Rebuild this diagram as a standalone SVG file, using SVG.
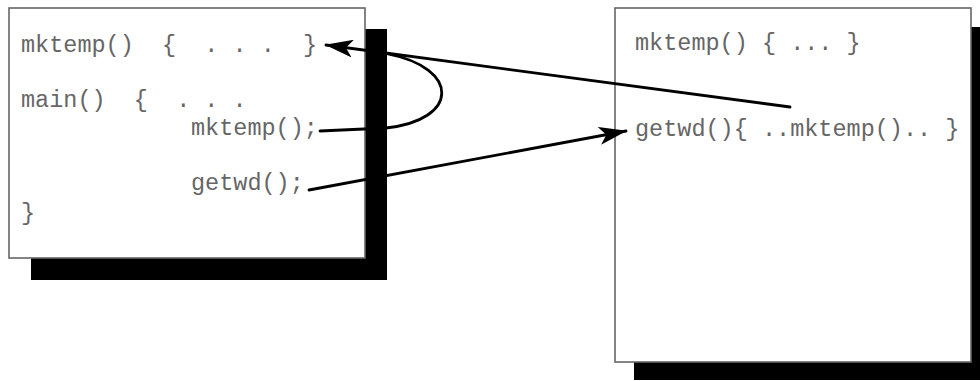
<svg xmlns="http://www.w3.org/2000/svg" width="980" height="381" viewBox="0 0 980 381">
<style>
.shadow{fill:#000}
.box{fill:#fff;stroke:#666;stroke-width:1.6}
.code{font-family:"Liberation Mono","Courier New",monospace;font-size:23.5px;fill:#666;white-space:pre}
.conn{fill:none;stroke:#000;stroke-width:2.8;stroke-linecap:round}
</style>
<defs>
<marker id="ah" viewBox="0 0 28 18" refX="27" refY="9" markerWidth="28" markerHeight="18" markerUnits="userSpaceOnUse" orient="auto">
<path d="M28,9 L0,0 L7,9 L0,18 Z" fill="#000"/>
</marker>
</defs>
<g id="caller">
<rect class="shadow" x="31" y="29" width="356" height="251"/>
<rect class="box" x="9" y="8" width="356" height="250"/>
<text class="code" x="21" y="52" xml:space="preserve">mktemp()  {  . . .  }</text>
<text class="code" x="21" y="107" xml:space="preserve">main()  {  . . .</text>
<text class="code" x="191" y="135">mktemp();</text>
<text class="code" x="191" y="190">getwd();</text>
<text class="code" x="21" y="220">}</text>
</g>
<g id="library">
<rect class="shadow" x="634" y="27" width="360" height="353"/>
<rect class="box" x="615" y="8" width="356" height="354"/>
<text class="code" x="635" y="50" xml:space="preserve">mktemp() { ... }</text>
<text class="code" x="635" y="136" xml:space="preserve">getwd(){ ..mktemp().. }</text>
</g>
<g id="connectors">
<path class="conn" d="M790,107 L326,45" marker-end="url(#ah)"/>
<path class="conn" d="M320,131 L386,128 C460,120 460,68 388,54"/>
<path class="conn" d="M309,190 L626,131" marker-end="url(#ah)"/>
</g>
</svg>
